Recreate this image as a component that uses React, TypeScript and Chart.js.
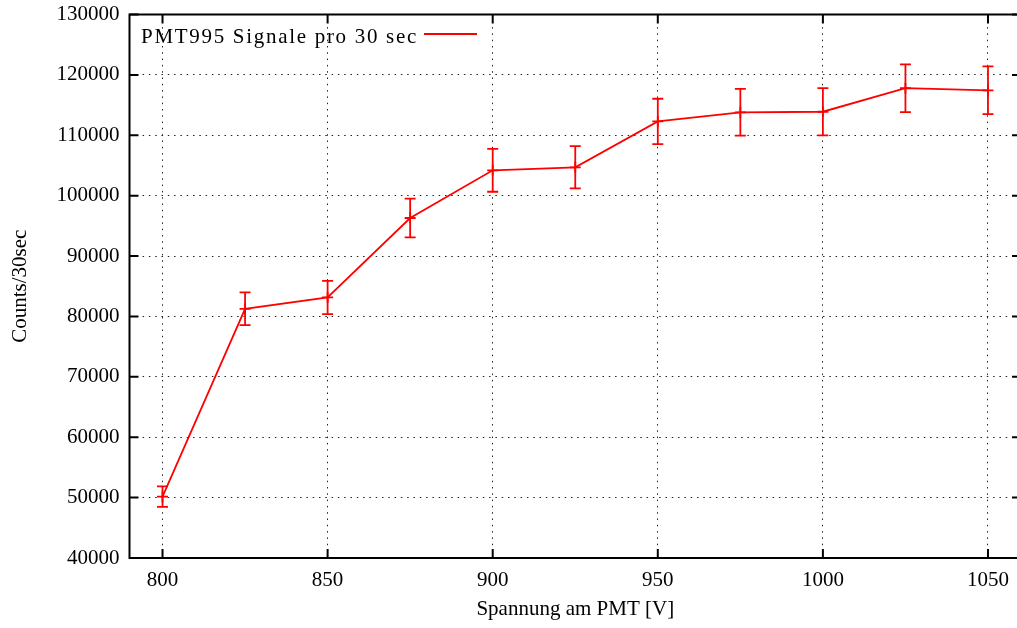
import React, { useEffect, useRef } from "react";
import { Chart, registerables } from "chart.js";

Chart.register(...registerables);

const voltages = [800, 825, 850, 875, 900, 925, 950, 975, 1000, 1025, 1050];
const counts = [50150, 81270, 83150, 96300, 104200, 104700, 112300, 113800, 113900, 117800, 117450];
const countErrors = [1700, 2700, 2750, 3200, 3550, 3500, 3750, 3870, 3900, 3950, 3950];
const xTickValues = [800, 850, 900, 950, 1000, 1050];
const yTickValues = [40000, 50000, 60000, 70000, 80000, 90000, 100000, 110000, 120000, 130000];
const seriesLabel = "PMT995 Signale pro 30 sec";
const xTitle = "Spannung am PMT [V]";
const yTitle = "Counts/30sec";

const FONT = "'Liberation Serif', 'Times New Roman', serif";
const RED = "#ff0000";

export default function App() {
  const ref = useRef<HTMLCanvasElement>(null);

  useEffect(() => {
    const canvas = ref.current;
    if (!canvas) return;

    const errorBars = {
      id: "errorBars",
      afterDatasetsDraw(chart: any) {
        const { ctx } = chart;
        const x = chart.scales.x;
        const y = chart.scales.y;
        ctx.save();
        ctx.strokeStyle = RED;
        ctx.lineWidth = 1.8;
        voltages.forEach((v, i) => {
          const px = x.getPixelForValue(v);
          const top = y.getPixelForValue(counts[i] + countErrors[i]);
          const bot = y.getPixelForValue(counts[i] - countErrors[i]);
          ctx.beginPath();
          ctx.moveTo(px, top);
          ctx.lineTo(px, bot);
          ctx.moveTo(px - 5.5, top);
          ctx.lineTo(px + 5.5, top);
          ctx.moveTo(px - 5.5, bot);
          ctx.lineTo(px + 5.5, bot);
          ctx.stroke();
        });
        ctx.restore();
      },
    };

    const frame = {
      id: "frame",
      afterDraw(chart: any) {
        const { ctx, chartArea: a } = chart;
        const x = chart.scales.x;
        const y = chart.scales.y;
        ctx.save();
        ctx.strokeStyle = "#000";
        ctx.lineWidth = 2;
        ctx.beginPath();
        ctx.moveTo(a.right, a.top);
        ctx.lineTo(a.left, a.top);
        ctx.lineTo(a.left, a.bottom);
        ctx.lineTo(a.right, a.bottom);
        ctx.lineTo(a.right, a.top);
        ctx.stroke();
        const L = 9;
        ctx.beginPath();
        xTickValues.forEach((v) => {
          const px = x.getPixelForValue(v);
          ctx.moveTo(px, a.bottom);
          ctx.lineTo(px, a.bottom - L);
          ctx.moveTo(px, a.top);
          ctx.lineTo(px, a.top + L);
        });
        yTickValues.forEach((v) => {
          const py = y.getPixelForValue(v);
          ctx.moveTo(a.left, py);
          ctx.lineTo(a.left + L, py);
          ctx.moveTo(a.right, py);
          ctx.lineTo(a.right - L, py);
        });
        ctx.stroke();

        // gnuplot-style key: text then line sample
        ctx.font = `21px ${FONT}`;
        ctx.fillStyle = "#000";
        ctx.textBaseline = "alphabetic";
        ctx.textAlign = "left";
        const w0 = ctx.measureText(seriesLabel).width;
        (ctx as any).letterSpacing = `${Math.max(0, (277 - w0) / seriesLabel.length)}px`;
        ctx.fillText(seriesLabel, a.left + 11.5, a.top + 28);
        (ctx as any).letterSpacing = "0px";
        ctx.strokeStyle = RED;
        ctx.lineWidth = 1.8;
        ctx.beginPath();
        ctx.moveTo(a.left + 294.5, a.top + 19.5);
        ctx.lineTo(a.left + 347.5, a.top + 19.5);
        ctx.stroke();
        ctx.restore();
      },
    };

    const chart = new Chart(canvas, {
      type: "line",
      data: {
        datasets: [
          {
            label: seriesLabel,
            data: voltages.map((v, i) => ({ x: v, y: counts[i] })),
            borderColor: RED,
            backgroundColor: RED,
            borderWidth: 1.8,
            pointStyle: "cross",
            pointRadius: 5.5,
            pointBorderWidth: 1.8,
            pointBorderColor: RED,
            tension: 0,
            fill: false,
          },
        ],
      },
      options: {
        responsive: false,
        animation: false,
        devicePixelRatio: 1,
        layout: { autoPadding: false, padding: { top: 14.5, left: 0, right: 0, bottom: 0 } },
        plugins: { legend: { display: false }, tooltip: { enabled: false } },
        scales: {
          x: {
            type: "linear",
            min: 790,
            max: 1060,
            afterFit(s: any) {
              s.height = 70;
              s.paddingLeft = 0;
              s.paddingRight = 0;
            },
            afterBuildTicks(s: any) {
              s.ticks = xTickValues.map((v) => ({ value: v }));
            },
            grid: { color: "#222", lineWidth: 1, drawTicks: false },
            border: { display: false, dash: [1.5, 4.8] },
            ticks: {
              font: { family: FONT, size: 21 },
              color: "#000",
              padding: 10,
              maxRotation: 0,
              autoSkip: false,
              callback: (v: any) => String(v),
            },
            title: {
              display: true,
              text: xTitle,
              font: { family: FONT, size: 21 },
              color: "#000",
              padding: { top: 0, bottom: 6 },
            },
          },
          y: {
            type: "linear",
            min: 40000,
            max: 130000,
            afterFit(s: any) {
              s.width = 129.5;
              s.paddingTop = 0;
              s.paddingBottom = 0;
            },
            afterBuildTicks(s: any) {
              s.ticks = yTickValues.map((v) => ({ value: v }));
            },
            grid: { color: "#222", lineWidth: 1, drawTicks: false },
            border: { display: false, dash: [1.5, 4.8] },
            ticks: {
              font: { family: FONT, size: 21 },
              color: "#000",
              padding: 10,
              autoSkip: false,
              callback: (v: any) => String(v),
            },
            title: {
              display: true,
              text: yTitle,
              font: { family: FONT, size: 21 },
              color: "#000",
              padding: { top: 8, bottom: 0 },
            },
          },
        },
      },
      plugins: [errorBars, frame],
    } as any);

    return () => chart.destroy();
  }, []);

  return (
    <div
      style={{
        position: "absolute",
        left: 0,
        top: 0,
        width: 1017,
        height: 628,
        overflow: "hidden",
        background: "#fff",
      }}
    >
      <canvas ref={ref} width={1021} height={628} style={{ display: "block" }} />
    </div>
  );
}
